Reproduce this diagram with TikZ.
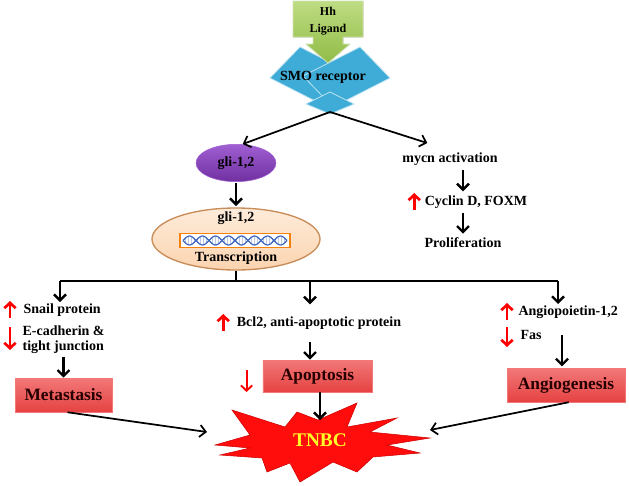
\documentclass[tikz,border=0pt]{standalone}
\usepackage{fontspec}
\setmainfont{Liberation Serif}
\usetikzlibrary{arrows.meta,positioning,shapes.geometric,calc}

\definecolor{hhgreen}{RGB}{145,188,70}
\definecolor{hhgreenlight}{RGB}{190,220,130}
\definecolor{smoblue}{RGB}{62,172,214}
\definecolor{gliviolet}{RGB}{112,48,160}
\definecolor{glivioletlight}{RGB}{160,95,210}
\definecolor{peach}{RGB}{251,212,176}
\definecolor{peachlight}{RGB}{254,236,218}
\definecolor{peachline}{RGB}{200,140,88}
\definecolor{boxred}{RGB}{230,66,66}
\definecolor{boxredlight}{RGB}{242,120,120}
\definecolor{starred}{RGB}{255,12,12}
\definecolor{tnbcyellow}{RGB}{255,255,40}
\definecolor{helixblue}{RGB}{60,100,190}

\begin{document}
\begin{tikzpicture}[x=0.75pt,y=-0.75pt,
  every node/.style={font=\bfseries\fontsize{10.5}{12}\selectfont,inner sep=1pt},
  >={Straight Barb[length=4.5pt,width=9pt]},
  flow/.style={->,line width=1.8pt},
  link/.style={->,line width=1.3pt},
  bus/.style={line width=1.3pt},
  redmark/.style={-{Straight Barb[length=4pt,width=8.5pt]},red,line width=2pt},
  receptor/.style={fill=smoblue,draw=white!65!smoblue,line width=0.6pt},
  ligand/.style={top color=hhgreenlight,bottom color=hhgreen,draw=white!60!hhgreen,line width=0.6pt},
  effect box/.style={rectangle,draw=boxredlight,top color=boxredlight,bottom color=boxred,
    font=\bfseries\fontsize{13}{15}\selectfont,text=black!85!red},
  burst/.style={fill=starred,draw=red!80!black,line width=0.4pt}]

\useasboundingbox (0,0) rectangle (629,486);

% receptor and ligand
\filldraw[receptor] (270,78) -- (300,47) -- (357,76) -- (327,107) -- cycle;
\filldraw[receptor] (390,78) -- (360,47) -- (303,76) -- (333,107) -- cycle;
\filldraw[receptor] (330,92) -- (354,104) -- (330,114) -- (306,104) -- cycle;
\filldraw[ligand] (293,1) -- (363,1) -- (363,37) -- (343,37) -- (343,44) -- (350,44)
  -- (328,63) -- (306,44) -- (313,44) -- (313,37) -- (293,37) -- cycle;
\node[align=center,font=\bfseries\fontsize{9}{12.5}\selectfont] (hh) at (328,21) {Hh\\Ligand};
\node (smo) at (323,77) {SMO receptor};
\coordinate (smobot) at (330,112);

% gli and transcription
\node[ellipse,top color=glivioletlight,bottom color=gliviolet,draw=glivioletlight,
  minimum width=60pt,minimum height=28pt] (gli) at (236,163) {gli-1,2};
\node[ellipse,top color=peachlight,bottom color=peach,draw=peachline,line width=1pt,
  minimum width=126pt,minimum height=46.5pt] (trans) at (236,239) {};
\node (glitxt) at (236,218) {gli-1,2};
\node[rectangle,draw=orange!85!brown,line width=0.8pt,fill=white,
  minimum width=82.5pt,minimum height=11pt] (dna) at (235,240.5) {};
\foreach \t in {2,5,...,104}
  \draw[helixblue!35,line width=0.4pt] ({183+\t},{240.5+4.5*sin(\t*13.846)}) -- ({183+\t},{240.5-4.5*sin(\t*13.846)});
\draw[helixblue,line width=0.9pt] plot[domain=0:104,samples=80] ({183+\x},{240.5+4.5*sin(\x*13.846)});
\draw[helixblue,line width=0.9pt] plot[domain=0:104,samples=80] ({183+\x},{240.5-4.5*sin(\x*13.846)});
\node (transtxt) at (236,258) {Transcription};

% mycn branch
\node (mycn) at (450,159) {mycn activation};
\node (cyclin) at (476,202) {Cyclin D, FOXM};
\node (prolif) at (463,243) {Proliferation};
\draw[link] (smobot) -- ([xshift=5pt]gli.north);
\draw[link] (smobot) -- ([xshift=-17pt,yshift=6pt]mycn.north);
\draw[flow,shorten <=2pt,shorten >=2pt] (prolif.north |- mycn.south) -- (prolif.north |- cyclin.north);
\draw[flow,shorten <=2pt,shorten >=2pt] (prolif.north |- cyclin.south) -- (prolif.north);
\draw[redmark] (cyclin.west) ++(-9,8) -- ++(0,-17);

% bus
\draw[flow,shorten <=1pt,shorten >=1pt] (gli) -- (trans);
\coordinate (busL) at (60,281);
\coordinate (busM) at (310,281);
\coordinate (busR) at (558,281);
\draw[bus] (trans.south) -- (trans.south |- busL);
\draw[bus] (busL) -- (busR);

% metastasis
\node[anchor=west] (snail) at (22,310) {Snail protein};
\node[anchor=west,align=left,font=\bfseries\fontsize{10.5}{11.3}\selectfont] (ecad) at (21,340) {E-cadherin \&\\tight junction};
\draw[redmark] (snail.west) ++(-12,8) -- ++(0,-17);
\draw[redmark] (ecad.west) ++(-11,-13) -- ++(0,23);
\node[effect box,minimum width=72.75pt,minimum height=25.5pt] (meta) at (63.5,395) {Metastasis};
\draw[flow] (busL) -- (busL |- snail.north);
\draw[flow,shorten <=1pt] (meta.north |- ecad.south) -- (meta.north);

% apoptosis
\node (bcl) at (319,323) {Bcl2, anti-apoptotic protein};
\draw[redmark] (bcl.west) ++(-12,8) -- ++(0,-17);
\node[effect box,minimum width=82pt,minimum height=24pt] (apop) at (317.5,376) {Apoptosis};
\draw[redmark,line width=1.4pt] (apop.west) ++(-16,-6) -- ++(0,22);
\draw[flow,shorten >=8pt] (busM) -- (busM |- bcl.north);
\draw[flow,shorten <=8pt] (busM |- bcl.south) -- (busM |- apop.north);

% angiogenesis
\node[anchor=west] (angio) at (517,312) {Angiopoietin-1,2};
\node[anchor=west] (fas) at (519,335) {Fas};
\draw[redmark] (angio.west) ++(-10,8) -- ++(0,-17);
\draw[redmark] (fas.west) ++(-12,-8) -- ++(0,20);
\node[effect box,minimum width=88.5pt,minimum height=25.5pt] (angiog) at (566,385) {Angiogenesis};
\draw[flow] (busR) -- (busR |- angio.north);
\draw[flow,shorten >=1pt] ([xshift=-3pt]angiog.north |- fas.center) -- ([xshift=-3pt]angiog.north);

% TNBC
\filldraw[burst] (215,445) -- (250,435) -- (232,410) -- (285,427) -- (297,412) -- (318,420)
  -- (357,403) -- (347,427) -- (397,418) -- (370,432) -- (430,438) -- (387,445)
  -- (420,453) -- (373,457) -- (357,472) -- (333,462) -- (300,482) -- (290,463)
  -- (267,472) -- (262,458) -- (220,455) -- (250,448) -- cycle;
\node[text=tnbcyellow,font=\bfseries\fontsize{14.5}{16}\selectfont] (tnbc) at (320,440) {TNBC};
\coordinate (starW) at (207,432);
\coordinate (starN) at (320,420);
\coordinate (starE) at (430,430);
\draw[link] ([xshift=3pt]meta.south) -- (starW);
\draw[flow] (apop.south -| starN) -- (starN);
\draw[link] ([xshift=2pt]angiog.south) -- (starE);
\end{tikzpicture}
\end{document}
